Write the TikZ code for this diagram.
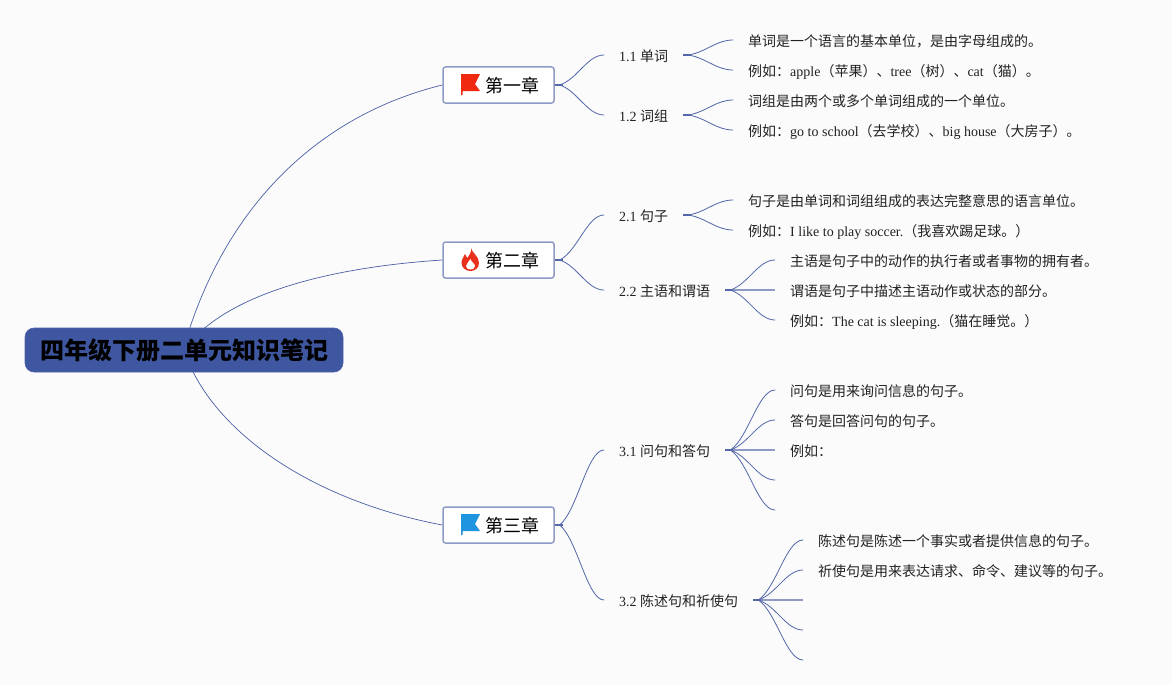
\documentclass[tikz,border=0pt]{standalone}
\usepackage{fontspec}
\setmainfont{Liberation Serif}
\newfontfamily\cjk{Noto Sans CJK SC}
\newcommand{\zh}[1]{{\cjk #1}}
\usetikzlibrary{calc}
\definecolor{bgc}{HTML}{FBFBFC}
\definecolor{linec}{HTML}{5266A8}
\definecolor{rootlinec}{HTML}{4A5FA5}
\definecolor{rootc}{HTML}{3F56A0}
\definecolor{edgec}{HTML}{8F9BC4}
\definecolor{textc}{HTML}{222222}
\definecolor{flagred}{HTML}{F02A0E}
\definecolor{flagblue}{HTML}{1E95DE}
\definecolor{flamec}{HTML}{E8301C}
\tikzset{
  rootbox/.style={draw=rootc!92!white,line width=.6pt,fill=rootc,rounded corners=9pt,minimum width=318pt,minimum height=44pt,inner sep=0pt,font=\fontsize{24}{28}\selectfont\cjk\bfseries,text=black},
  chapbox/.style={draw=edgec,line width=1.5pt,fill=white,rounded corners=2.5pt,minimum width=111pt,minimum height=36pt,inner sep=0pt},
  chaptext/.style={inner sep=0pt,anchor=west,font=\fontsize{18}{22}\selectfont\cjk,text=black},
  subnode/.style={anchor=west,inner xsep=15pt,inner ysep=0pt,text height=14.6pt,text depth=2pt,font=\fontsize{14}{17}\selectfont,text=textc},
  leafnode/.style={subnode},
  link/.style={draw=linec,line width=.8pt,line cap=round},
  straightlink/.style={draw=edgec,line width=1.6pt},
  rootlink/.style={draw=rootlinec,line width=.7pt},
  stub/.style={draw=linec,line width=1.5pt},
}
\newcommand{\conn}[2]{%
  \draw[stub] (#1) -- ++(8,0);
  \draw[link] ($(#1)+(5,0)$) .. controls ($(#1)!.2!(#2)+(13,0)$) and ($(#2)!.34!(#1|-#2)$) .. (#2);}
\newcommand{\connstraight}[2]{%
  \draw[straightlink] (#1) -- (#2);
  \draw[stub] (#1) -- ++(8,0);}
\newcommand{\flag}[3]{\fill[#3] (#1,#2) ++(0,-11) -- ++(19,0) -- ++(-5,10) -- ++(5,7) -- ++(-17.5,0) -- ++(0,4) -- ++(-1.5,0) -- cycle;}
\begin{document}
\begin{tikzpicture}[x=1pt,y=-1pt]
\useasboundingbox (0,0) rectangle (1172,685);
\fill[bgc] (0,0) rectangle (1172,685);

\coordinate (rootc) at (183,350);
\coordinate (rootm) at (184,350);
\node[chapbox] (ch1) at (498.5,85) {};
\node[chapbox] (ch2) at (498.5,260) {};
\node[chapbox] (ch3) at (498.5,525) {};

\draw[rootlink] (rootc) .. controls (224,205) and (320,115) .. (ch1.west);
\draw[rootlink] (rootm) .. controls (222,297) and (320,268) .. (ch2.west);
\draw[rootlink] (rootm) .. controls (210,430) and (310,500) .. (ch3.west);

\node[rootbox] (root) at (184,350) {四年级下册二单元知识笔记};

\node[chaptext] at (485.5,85.5) {第一章};
\node[chaptext] at (485.5,260.5) {第二章};
\node[chaptext] at (485.5,525.5) {第三章};

% icons
\flag{461}{85}{flagred}
\flag{461}{525}{flagblue}
\fill[flamec] (471,248) .. controls (472,253) and (479,256) .. (479,263)
  .. controls (479,268) and (475,271) .. (470.5,271)
  .. controls (465,271) and (461.5,267) .. (461.5,263)
  .. controls (461.5,259) and (464,257) .. (465,254)
  .. controls (466,256) and (466.5,257) .. (467.5,258)
  .. controls (469,255) and (472,252) .. (471,248) -- cycle;
\fill[white] (470.5,259) .. controls (471,262) and (475,263.5) .. (475,266)
  .. controls (475,268.5) and (472.5,269.5) .. (470.5,269.5)
  .. controls (468,269.5) and (466,268) .. (466,266)
  .. controls (466,263.5) and (469,262) .. (470.5,259) -- cycle;

% level 2
\node[subnode] (s11) at (604,55) {1.1 \zh{单词}};
\node[subnode] (s12) at (604,115) {1.2 \zh{词组}};
\node[subnode] (s21) at (604,215) {2.1 \zh{句子}};
\node[subnode] (s22) at (604,290) {2.2 \zh{主语和谓语}};
\node[subnode] (s31) at (604,450) {3.1 \zh{问句和答句}};
\node[subnode] (s32) at (604,600) {3.2 \zh{陈述句和祈使句}};

% level 3
\node[leafnode] (l1) at (733,40) {\zh{单词是一个语言的基本单位，是由字母组成的。}};
\node[leafnode] (l2) at (733,70) {\zh{例如：}apple\zh{（苹果）、}tree\zh{（树）、}cat\zh{（猫）。}};
\node[leafnode] (l3) at (733,100) {\zh{词组是由两个或多个单词组成的一个单位。}};
\node[leafnode] (l4) at (733,130) {\zh{例如：}go to school\zh{（去学校）、}big house\zh{（大房子）。}};
\node[leafnode] (l5) at (733,200) {\zh{句子是由单词和词组组成的表达完整意思的语言单位。}};
\node[leafnode] (l6) at (733,230) {\zh{例如：}I like to play soccer.\zh{（我喜欢踢足球。）}};
\node[leafnode] (l7) at (775,260) {\zh{主语是句子中的动作的执行者或者事物的拥有者。}};
\node[leafnode] (l8) at (775,290) {\zh{谓语是句子中描述主语动作或状态的部分。}};
\node[leafnode] (l9) at (775,320) {\zh{例如：}The cat is sleeping.\zh{（猫在睡觉。）}};
\node[leafnode] (l10) at (775,390) {\zh{问句是用来询问信息的句子。}};
\node[leafnode] (l11) at (775,420) {\zh{答句是回答问句的句子。}};
\node[leafnode] (l12) at (775,450) {\zh{例如：}};
\coordinate (l13) at (775,480);
\coordinate (l14) at (775,510);
\node[leafnode] (l15) at (803,540) {\zh{陈述句是陈述一个事实或者提供信息的句子。}};
\node[leafnode] (l16) at (803,570) {\zh{祈使句是用来表达请求、命令、建议等的句子。}};
\coordinate (l17) at (803,600);
\coordinate (l18) at (803,630);
\coordinate (l19) at (803,660);

\conn{ch1.east}{s11.west}
\conn{ch1.east}{s12.west}
\conn{ch2.east}{s21.west}
\conn{ch2.east}{s22.west}
\conn{ch3.east}{s31.west}
\conn{ch3.east}{s32.west}
\conn{s11.east}{l1.west}
\conn{s11.east}{l2.west}
\conn{s12.east}{l3.west}
\conn{s12.east}{l4.west}
\conn{s21.east}{l5.west}
\conn{s21.east}{l6.west}
\conn{s22.east}{l7.west}
\connstraight{s22.east}{l8.west}
\conn{s22.east}{l9.west}
\conn{s31.east}{l10.west}
\conn{s31.east}{l11.west}
\connstraight{s31.east}{l12.west}
\conn{s31.east}{l13}
\conn{s31.east}{l14}
\conn{s32.east}{l15.west}
\conn{s32.east}{l16.west}
\connstraight{s32.east}{l17}
\conn{s32.east}{l18}
\conn{s32.east}{l19}
\end{tikzpicture}
\end{document}
